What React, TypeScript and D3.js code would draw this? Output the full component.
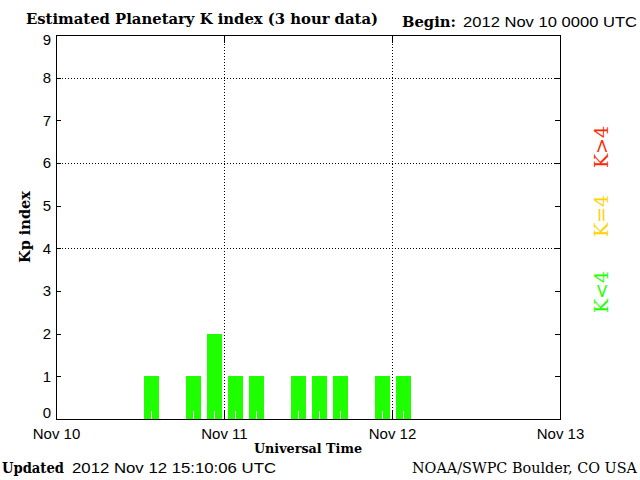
import React from "react";
import * as d3 from "d3";

const kpTimes: string[] = [
  "2012-11-10T00:00Z", "2012-11-10T03:00Z", "2012-11-10T06:00Z", "2012-11-10T09:00Z",
  "2012-11-10T12:00Z", "2012-11-10T15:00Z", "2012-11-10T18:00Z", "2012-11-10T21:00Z",
  "2012-11-11T00:00Z", "2012-11-11T03:00Z", "2012-11-11T06:00Z", "2012-11-11T09:00Z",
  "2012-11-11T12:00Z", "2012-11-11T15:00Z", "2012-11-11T18:00Z", "2012-11-11T21:00Z",
  "2012-11-12T00:00Z", "2012-11-12T03:00Z", "2012-11-12T06:00Z", "2012-11-12T09:00Z",
  "2012-11-12T12:00Z",
];
const kpValues: number[] = [0, 0, 0, 0, 1, 0, 1, 2, 1, 1, 0, 1, 1, 1, 0, 1, 1, 0, 0, 0, 0];
// Only slots with data (through Nov 12 15:00)
const kpHasData: boolean[] = [
  true, true, true, true, true, true, true, true, true, true, true, true, true, true, true, true,
  true, false, false, false, false,
];

const dayTicks: string[] = ["2012-11-10T00:00Z", "2012-11-11T00:00Z", "2012-11-12T00:00Z", "2012-11-13T00:00Z"];
const dayLabels: string[] = ["Nov 10", "Nov 11", "Nov 12", "Nov 13"];
const yTicks: number[] = [0, 1, 2, 3, 4, 5, 6, 7, 8, 9];
const yGrid: number[] = [4, 6, 8];
const xGrid: string[] = ["2012-11-11T00:00Z", "2012-11-12T00:00Z"];

const legendItems: { text: string; color: string; y: number }[] = [
  { text: "K>4", color: "#ff2800", y: 147 },
  { text: "K=4", color: "#ffd200", y: 216 },
  { text: "K<4", color: "#1eff00", y: 292 },
];

const W = 640;
const H = 480;
const L = 56, R = 560, T = 35, B = 419;

export default function App() {
  const x = d3.scaleUtc()
    .domain([new Date(dayTicks[0]), new Date(dayTicks[dayTicks.length - 1])])
    .range([L, R]);
  const y = d3.scaleLinear().domain([0, 9]).range([B, T]);
  const slotMs = 3 * 3600 * 1000;
  const serif = "'DejaVu Serif', 'Liberation Serif', serif";
  const sans = "'Liberation Sans', Arial, sans-serif";

  const bars = kpTimes.map((t, i) => {
    const d0 = new Date(t);
    const x0 = x(d0);
    const x1 = x(new Date(d0.getTime() + slotMs));
    const sw = x1 - x0;
    return { x0, sw, v: kpValues[i], has: kpHasData[i] };
  });

  return (
    <svg width={W} height={H} style={{ position: "absolute", left: 0, top: 0, background: "#fff" }}
      shapeRendering="crispEdges">
      <rect x={0} y={0} width={W} height={H} fill="#fff" />
      {/* title */}
      <text x={26} y={24} fontFamily={serif} fontWeight="bold" fontSize={14} textLength={352} lengthAdjust="spacingAndGlyphs">
        Estimated Planetary K index (3 hour data)
      </text>
      <text x={402} y={27} fontFamily={serif} fontWeight="bold" fontSize={14} textLength={54} lengthAdjust="spacingAndGlyphs">
        Begin:
      </text>
      <text x={463} y={27} fontFamily={sans} fontSize={14} textLength={174} lengthAdjust="spacingAndGlyphs">
        2012 Nov 10 0000 UTC
      </text>

      {/* bars */}
      {bars.map((b, i) =>
        b.has && b.v > 0 ? (
          <rect key={"b" + i} x={b.x0 + b.sw * 0.17} width={b.sw * 0.74} y={y(b.v)} height={y(0) - y(b.v)} fill="#1eff00" />
        ) : null
      )}
      {/* white minor ticks at slot centres */}
      {bars.map((b, i) => (
        <line key={"mt" + i} x1={Math.round(b.x0 + b.sw / 2) + 0.5} x2={Math.round(b.x0 + b.sw / 2) + 0.5}
          y1={B} y2={B - 8} stroke="#fff" strokeWidth={1} />
      ))}

      {/* grid */}
      {yGrid.map((v) => (
        <line key={"gy" + v} x1={L} x2={R} y1={Math.round(y(v)) + 0.5} y2={Math.round(y(v)) + 0.5}
          stroke="#000" strokeWidth={1} strokeDasharray="1,2" />
      ))}
      {xGrid.map((t) => (
        <line key={"gx" + t} x1={Math.round(x(new Date(t))) + 0.5} x2={Math.round(x(new Date(t))) + 0.5}
          y1={T} y2={B} stroke="#000" strokeWidth={1} strokeDasharray="1,2" />
      ))}

      {/* frame */}
      <rect x={L + 0.5} y={T + 0.5} width={R - L} height={B - T} fill="none" stroke="#000" strokeWidth={1} />

      {/* y ticks */}
      {yTicks.map((v) => {
        const yy = Math.round(y(v)) + 0.5;
        return (
          <g key={"yt" + v}>
            <line x1={L} x2={L + 5} y1={yy} y2={yy} stroke="#000" />
            <line x1={R - 5} x2={R} y1={yy} y2={yy} stroke="#000" />
            <text x={51} y={Math.min(Math.max(y(v), T + 5), B - 6)} dy="0.36em" textAnchor="end"
              fontFamily={sans} fontSize={15}>{v}</text>
          </g>
        );
      })}

      {/* x major ticks */}
      {dayTicks.map((t, i) => {
        const xx = Math.round(x(new Date(t))) + 0.5;
        return (
          <g key={"xt" + i}>
            <line x1={xx} x2={xx} y1={B} y2={B - 8} stroke="#000" />
            <line x1={xx} x2={xx} y1={T} y2={T + 8} stroke="#000" />
            <text x={xx} y={439} textAnchor="middle" fontFamily={sans} fontSize={15}>{dayLabels[i]}</text>
          </g>
        );
      })}

      {/* axis titles */}
      <text x={308} y={453} textAnchor="middle" fontFamily={serif} fontWeight="bold" fontSize={13}
        textLength={108} lengthAdjust="spacingAndGlyphs">Universal Time</text>
      <text transform={`translate(30,227) rotate(-90)`} textAnchor="middle" fontFamily={serif} fontWeight="bold"
        fontSize={15} textLength={72} lengthAdjust="spacingAndGlyphs">Kp index</text>

      {/* legend */}
      {legendItems.map((it) => (
        <text key={it.text} transform={`translate(608,${it.y}) rotate(-90)`} textAnchor="middle"
          fontFamily={serif} fontSize={19} fill={it.color}>{it.text}</text>
      ))}

      {/* footer */}
      <text x={2} y={473} fontFamily={serif} fontWeight="bold" fontSize={14} textLength={62} lengthAdjust="spacingAndGlyphs">Updated</text>
      <text x={72} y={473} fontFamily={sans} fontSize={15} textLength={204} lengthAdjust="spacingAndGlyphs">2012 Nov 12 15:10:06 UTC</text>
      <text x={637} y={473} textAnchor="end" fontFamily={serif} fontSize={14} textLength={225} lengthAdjust="spacingAndGlyphs">NOAA/SWPC Boulder, CO USA</text>
    </svg>
  );
}
